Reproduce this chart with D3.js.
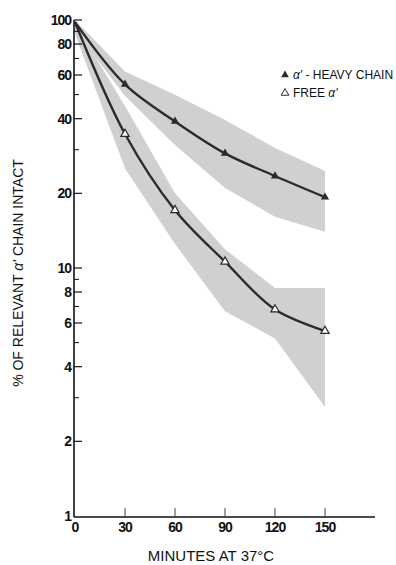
<!DOCTYPE html>
<html>
<head>
<meta charset="utf-8">
<script src="https://cdn.jsdelivr.net/npm/d3@7"></script>
<style>
  html, body { margin: 0; padding: 0; background: #fff; }
  svg { display: block; font-family: "Liberation Sans", Arial, sans-serif; }
</style>
</head>
<body>
<div id="chart"></div>
<script>
// minutes at 37 C
const minutes = [0, 30, 60, 90, 120, 150];

// heavy-chain alpha' (filled triangles), % intact
const heavyValues = [98, 55, 39, 29, 23.5, 19.3];
const heavyUpper = [100, 62, 50, 39.5, 30.5, 24.6];
const heavyLower = [91, 49.4, 31.3, 21, 16.1, 14];

// free alpha' (open triangles)
const freeValues = [98, 34.7, 17.1, 10.6, 6.8, 5.57];
const freeUpper = [97, 45, 20, 11.9, 8.3, 8.3];
const freeLower = [88, 25.2, 12.5, 6.7, 5.2, 2.75];

const xTicks = [0, 30, 60, 90, 120, 150];
const yMajor = [1, 2, 4, 6, 8, 10, 20, 40, 60, 80, 100];
const yMinor = [3, 5, 7, 9, 30, 50, 70, 90];

const width = 396, height = 565;
const svg = d3.select("#chart").append("svg").attr("width", width).attr("height", height);

const x = d3.scaleLinear().domain([0, 180]).range([75, 375]);
const y = d3.scaleLog().domain([1, 100]).range([516, 20]);

const ink = "#2b2b2b";

// shaded bands
const band = d3.area()
  .x(d => x(d.t))
  .y0(d => y(d.lo))
  .y1(d => y(d.hi));

const heavyBand = minutes.map((t, i) => ({ t, lo: heavyLower[i], hi: heavyUpper[i] }));
const freeBand = minutes.map((t, i) => ({ t, lo: freeLower[i], hi: freeUpper[i] }));

svg.append("path").datum(heavyBand).attr("d", band).attr("fill", "#d0d0d0");
svg.append("path").datum(freeBand).attr("d", band).attr("fill", "#d0d0d0");

// fitted curves
const line = d3.line().x(d => x(d.t)).y(d => y(d.v)).curve(d3.curveCatmullRom.alpha(0.5));
const heavy = minutes.map((t, i) => ({ t, v: heavyValues[i] }));
const free = minutes.map((t, i) => ({ t, v: freeValues[i] }));

svg.append("path").datum(heavy).attr("d", line)
  .attr("fill", "none").attr("stroke", ink).attr("stroke-width", 2.4);
svg.append("path").datum(free).attr("d", line)
  .attr("fill", "none").attr("stroke", ink).attr("stroke-width", 2.4);

// markers
const tri = d3.symbol().type(d3.symbolTriangle).size(30);
svg.append("g").selectAll("path")
  .data(heavy.slice(1))
  .join("path")
  .attr("d", tri)
  .attr("transform", d => `translate(${x(d.t)},${y(d.v)})`)
  .attr("fill", ink);
svg.append("g").selectAll("path")
  .data(free.slice(1))
  .join("path")
  .attr("d", tri)
  .attr("transform", d => `translate(${x(d.t)},${y(d.v)})`)
  .attr("fill", "#fff").attr("stroke", ink).attr("stroke-width", 1.2);

// axes
const axes = svg.append("g").attr("stroke", "#111");
axes.append("line").attr("x1", x(0) - 1).attr("x2", x(0) - 1).attr("y1", y(100)).attr("y2", y(1) + 1).attr("stroke-width", 1.6);
axes.append("line").attr("x1", x(0) - 1).attr("x2", x(180)).attr("y1", y(1) + 1).attr("y2", y(1) + 1).attr("stroke-width", 1.6);

axes.selectAll(".ymaj").data(yMajor.filter(d => d > 1)).join("line")
  .attr("x1", x(0) - 1).attr("x2", x(0) + 7).attr("y1", d => y(d)).attr("y2", d => y(d)).attr("stroke-width", 1.2);
axes.selectAll(".ymin").data(yMinor).join("line")
  .attr("x1", x(0) - 1).attr("x2", x(0) + 4).attr("y1", d => y(d)).attr("y2", d => y(d)).attr("stroke-width", 1);
axes.selectAll(".xt").data(xTicks.filter(d => d > 0)).join("line")
  .attr("x1", d => x(d)).attr("x2", d => x(d)).attr("y1", y(1)).attr("y2", y(1) - 8)
  .attr("stroke", "#555").attr("stroke-width", 1.1);

const labelStyle = sel => sel.attr("font-size", 14).attr("font-weight", "bold")
  .attr("letter-spacing", -1).attr("fill", "#111");

svg.append("g").selectAll("text").data(yMajor).join("text")
  .attr("x", x(0) - 4).attr("y", d => y(d) + 5)
  .attr("text-anchor", "end").text(d => d).call(labelStyle);

svg.append("g").selectAll("text").data(xTicks).join("text")
  .attr("x", d => x(d)).attr("y", 532)
  .attr("text-anchor", "middle").text(d => d).call(labelStyle);

// axis titles
svg.append("text").attr("x", 211).attr("y", 561)
  .attr("text-anchor", "middle").attr("font-size", 15).attr("fill", "#111")
  .text("MINUTES AT 37°C");

const yt = svg.append("text").attr("transform", "translate(23,273) rotate(-90)")
  .attr("text-anchor", "middle").attr("font-size", 14).attr("fill", "#111");
yt.append("tspan").text("% OF RELEVANT ");
yt.append("tspan").attr("font-style", "italic").text("α'");
yt.append("tspan").text(" CHAIN INTACT");

// legend
const legend = svg.append("g");
legend.append("path").attr("d", d3.symbol().type(d3.symbolTriangle).size(26))
  .attr("transform", "translate(285,75)").attr("fill", ink);
legend.append("path").attr("d", d3.symbol().type(d3.symbolTriangle).size(26))
  .attr("transform", "translate(285,93)").attr("fill", "#fff").attr("stroke", ink).attr("stroke-width", 1);

const l1 = legend.append("text").attr("x", 293).attr("y", 79).attr("font-size", 12).attr("fill", "#111");
l1.append("tspan").attr("font-style", "italic").text("α'");
l1.append("tspan").text(" - HEAVY CHAIN");
const l2 = legend.append("text").attr("x", 293).attr("y", 97).attr("font-size", 12).attr("fill", "#111");
l2.append("tspan").text("FREE ");
l2.append("tspan").attr("font-style", "italic").text("α'");
</script>
</body>
</html>
